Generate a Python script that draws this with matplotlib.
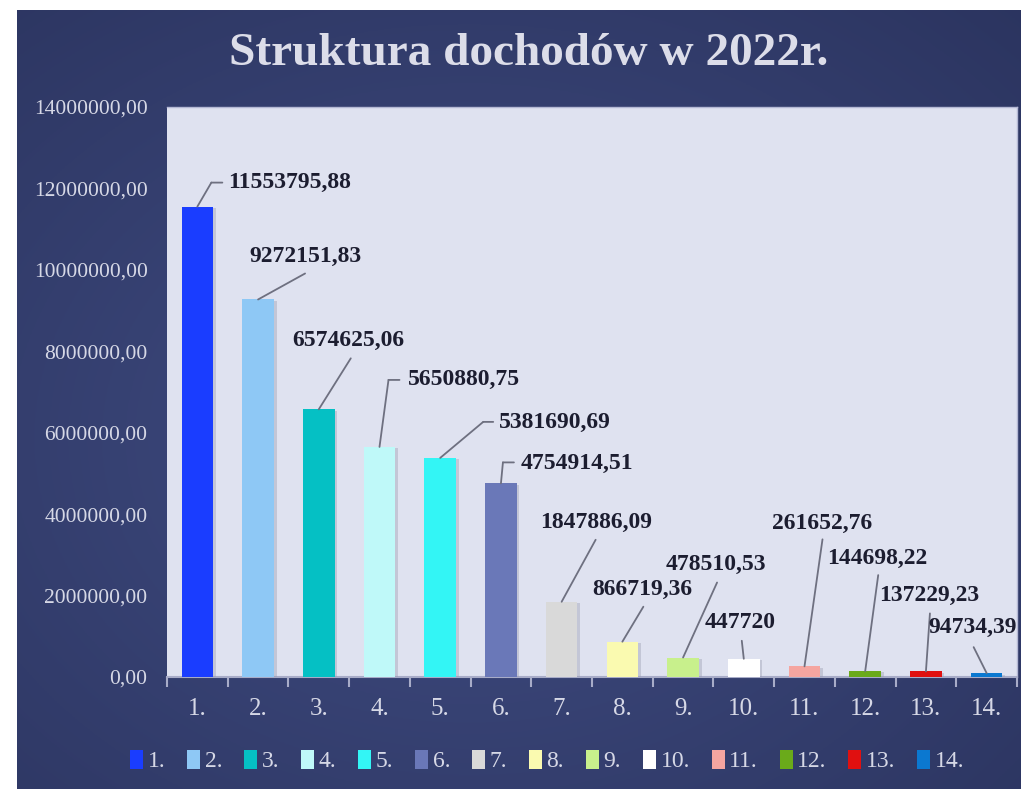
import numpy as np
import matplotlib
matplotlib.use('Agg')
import matplotlib.pyplot as plt
from matplotlib.patches import Patch
from matplotlib.transforms import offset_copy
import matplotlib.patheffects as pe

# chart data
categories = ['1.', '2.', '3.', '4.', '5.', '6.', '7.', '8.', '9.', '10.', '11.', '12.', '13.', '14.']
values = [11553795.88, 9272151.83, 6574625.06, 5650880.75, 5381690.69, 4754914.51,
          1847886.09, 866719.36, 478510.53, 447720, 261652.76, 144698.22, 137229.23, 94734.39]
colors = ['#1a3dff', '#8ec8f5', '#05c0c4', '#bff9f9', '#33f5f5', '#6a78b8', '#d9d9d9',
          '#fafab0', '#c8f08c', '#ffffff', '#f5a5a0', '#6aaa1a', '#e01010', '#0b78d0']
y_ticks = [0, 2000000, 4000000, 6000000, 8000000, 10000000, 12000000, 14000000]

# label layout: text offset (px) from bar top, leader end offset, optional horizontal tail
label_offsets = [(31, 24), (-9, 43), (-27, 69), (28, 67), (59, 35), (20, 20), (-22, 79),
                 (-30, 52), (-17, 93), (-39, 36), (-33, 143), (-38, 113), (-47, 76), (-58, 46)]
leader_ends = [(14, 24), (47, 26), (32, 51), (9, 67), (43, 36), (2, 21), (34, 62),
               (21, 35), (34, 75), (-2, 18), (18, 127), (13, 96), (4, 58), (-13, 26)]
leader_tails = [11, 0, 0, 11, 10, 11, 0, 0, 0, 0, 0, 0, 0, 0]


def fmt(v):
    if v == int(v):
        return str(int(v))
    return f'{v:.2f}'.replace('.', ',')


serif = 'Liberation Serif'
light = '#d6d8e6'

fig = plt.figure(figsize=(10.21, 7.89), dpi=100)
fig.patch.set_facecolor('white')

# dark gradient panel
bg = fig.add_axes([17 / 1021, 0, 1 - 17 / 1021, 779 / 789])
yy, xx = np.mgrid[0:1:300j, 0:1:400j]
r = np.sqrt(((xx - 0.45) / 0.8) ** 2 + ((yy - 0.55) / 0.8) ** 2)
r = np.clip(r, 0, 1)
c_in = np.array([64, 76, 130]) / 255
c_out = np.array([43, 52, 95]) / 255
img = c_in[None, None, :] * (1 - r[..., None]) + c_out[None, None, :] * r[..., None]
bg.imshow(img, aspect='auto', extent=[0, 1, 0, 1])
bg.axis('off')

ax = fig.add_axes([167 / 1021, 1 - 677 / 789, 850 / 1021, 570 / 789])
ax.set_facecolor('#dfe2f0')
x = np.arange(len(categories))
bars = ax.bar(x, values, width=0.52, color=colors, zorder=3)
for b in bars:
    b.set_path_effects([pe.SimplePatchShadow(offset=(2, -1), shadow_rgbFace='#9a9cb0', alpha=0.4),
                        pe.Normal()])

ax.set_xlim(-0.5, len(categories) - 0.5)
ax.set_ylim(0, 14000000)
ax.set_yticks(y_ticks)
ax.set_yticklabels([fmt(t) + ',00' for t in y_ticks],
                   family=serif, fontsize=15.5, color=light)
ax.set_xticks(x)
ax.set_xticklabels(categories, family=serif, fontsize=18, color=light)
ax.set_xticks(np.arange(-0.5, len(categories), 1), minor=True)
ax.tick_params(axis='y', length=0, pad=14)
ax.tick_params(axis='x', which='major', length=0, pad=15)
ax.tick_params(axis='x', which='minor', length=7, width=1.5, color='#a8acc8', direction='out')
ax.spines['left'].set_visible(False)
ax.spines['bottom'].set_color('#a8acc8')
ax.spines['bottom'].set_linewidth(1.5)
for s in ['top', 'right']:
    ax.spines[s].set_color('#b4b8d4')
    ax.spines[s].set_linewidth(1)

line_kw = dict(arrowstyle='-', color='#6e7080', lw=1.3, shrinkA=0, shrinkB=0)
for i, v in enumerate(values):
    ex, ey = leader_ends[i]
    ax.annotate('', xy=(i, v), xytext=(ex, ey), textcoords='offset pixels',
                arrowprops=line_kw, zorder=4)
    if leader_tails[i]:
        tr = offset_copy(ax.transData, fig=fig, x=ex, y=ey, units='dots')
        ax.annotate('', xy=(i, v), xycoords=tr, xytext=(leader_tails[i], 0),
                    textcoords='offset pixels', arrowprops=line_kw, zorder=4)
    dx, dy = label_offsets[i]
    ax.annotate(fmt(v), xy=(i, v), xytext=(dx, dy), textcoords='offset pixels',
                ha='left', va='center', family=serif, fontsize=17, fontweight='bold',
                color='#1c1d30', zorder=5, annotation_clip=False)

fig.text(0.518, 1 - 54 / 789, 'Struktura dochodów w 2022r.', ha='center', va='center',
         family=serif, fontsize=34, fontweight='bold', color='#dcdde9')

handles = [Patch(facecolor=c, edgecolor='none') for c in colors]
leg = fig.legend(handles, categories, loc='center', bbox_to_anchor=(0.536, 1 - 761 / 789),
                 ncol=len(categories), frameon=False, handlelength=0.55, handleheight=0.9,
                 handletextpad=0.2, columnspacing=0.92, prop={'family': serif, 'size': 17})
for t in leg.get_texts():
    t.set_color(light)

fig.savefig('out.png', dpi=100)
